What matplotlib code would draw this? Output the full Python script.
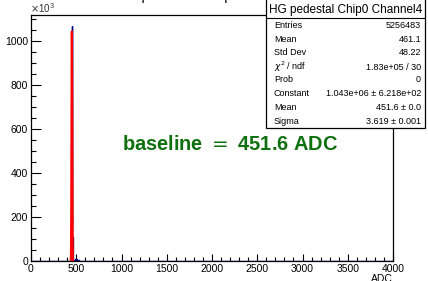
import numpy as np
import matplotlib
matplotlib.use("Agg")
import matplotlib.pyplot as plt
from matplotlib.patches import Rectangle
from matplotlib.ticker import MultipleLocator
from matplotlib.lines import Line2D

plt.rcParams['font.family'] = ['Liberation Sans', 'DejaVu Sans']

# histogram (counts in units of 10^3), peak region with bin width 2 ADC
peak_edges = [440, 442, 444, 446, 448, 450, 452, 454, 456, 458, 460, 462, 464]
peak_counts = [0.5, 3, 30, 160, 480, 900, 1068, 820, 390, 110, 18, 3]
# tail beyond the peak, coarse
tail_edges = [464, 470, 490, 510, 530, 1000, 2000, 4000]
tail_counts = [2, 4, 8, 3, 1, 0.4, 0.1]

# gaussian fit results
fit_const = 1.043e6
fit_mean = 451.6
fit_sigma = 3.619
fit_range = [440, 464]

stats_title = "HG pedestal Chip0 Channel4"
stats_names = ["Entries", "Mean", "Std Dev", r"$\chi^2$ / ndf", "Prob",
               "Constant", "Mean", "Sigma"]
stats_values = ["5256483", "461.1", "48.22", "1.83e+05 / 30", "0",
                "1.043e+06 \u00b1 6.218e+02", "451.6 \u00b1 0.0",
                "3.619 \u00b1 0.001"]

W, H = 428, 281
fig = plt.figure(figsize=(W / 100, H / 100), dpi=100)
ax = fig.add_axes([31 / W, (H - 261) / H, 362 / W, 246 / H])

edges = [0] + peak_edges + tail_edges[1:]
counts = [0] + peak_counts + tail_counts
ax.stairs(counts, edges, color='#000080', lw=1.0, zorder=2)

xf = np.linspace(fit_range[0], fit_range[1], 400)
yf = fit_const * np.exp(-0.5 * ((xf - fit_mean) / fit_sigma) ** 2) / 1e3
ax.plot(xf, yf, color='#ff0000', lw=1.6, zorder=3)

ax.set_xlim(0, 4000)
ax.set_ylim(0, 1118)
ax.xaxis.set_major_locator(MultipleLocator(500))
ax.xaxis.set_minor_locator(MultipleLocator(100))
ax.yaxis.set_major_locator(MultipleLocator(200))
ax.yaxis.set_minor_locator(MultipleLocator(50))
ax.tick_params(axis='both', which='both', direction='in', labelsize=7.5,
               width=0.8)
ax.tick_params(axis='y', which='major', length=7.5, pad=2)
ax.tick_params(axis='y', which='minor', length=3.8)
ax.tick_params(axis='x', which='major', length=5.2, pad=2)
ax.tick_params(axis='x', which='minor', length=2.8)
for s in ax.spines.values():
    s.set_linewidth(0.9)

fig.text(230 / W, 1 - 145 / H, "baseline $=$ 451.6 ADC", color='#0f700f',
         fontsize=14.4, fontweight='bold', ha='center', va='center')

fig.text(30 / W, 1 - 13 / H, r"$\times$10$^3$", fontsize=7, ha='left',
         va='baseline', color='#333333')
fig.text(393 / W, 0 - 0.012, "ADC", fontsize=7.5, ha='right', va='bottom')

# histogram title, mostly clipped at the top
fig.text(212 / W, 1.0, stats_title, fontsize=10.7, ha='center', va='baseline')

# stats box
bx0, bx1, by0, by1 = 266, 425, -2, 128
fig.patches.append(Rectangle((bx0 / W, 1 - by1 / H), (bx1 - bx0) / W,
                             (by1 - by0) / H, transform=fig.transFigure,
                             facecolor='white', edgecolor='black', lw=0.9,
                             zorder=10))
fig.lines.append(Line2D([bx0 / W, bx1 / W], [1 - 18 / H, 1 - 18 / H],
                        transform=fig.transFigure, color='black', lw=0.8,
                        zorder=11))
fig.text((bx0 + bx1) / 2 / W, 1 - 10 / H, stats_title, fontsize=8.5,
         ha='center', va='center', zorder=12)
row_y = [25.7, 39, 53, 67, 80, 93.5, 108, 122]
for name, val, yy in zip(stats_names, stats_values, row_y):
    fig.text(274 / W, 1 - yy / H, name, fontsize=6.5, ha='left', va='center',
             zorder=12)
    fig.text(421 / W, 1 - yy / H, val, fontsize=6.5, ha='right', va='center',
             zorder=12)

fig.savefig("out.png", dpi=100)
